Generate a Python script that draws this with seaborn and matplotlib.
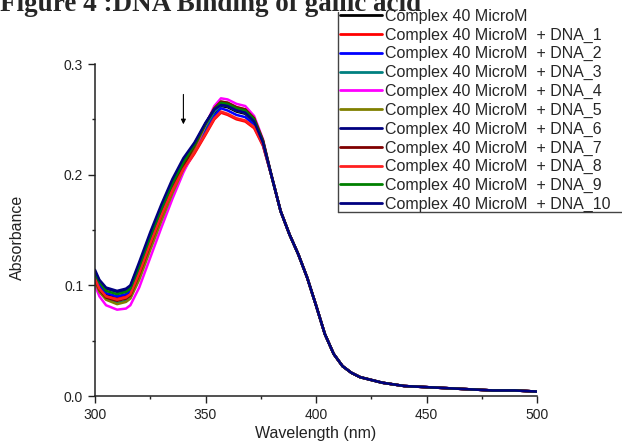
import pandas as pd
import matplotlib.pyplot as plt
import seaborn as sns
from matplotlib.lines import Line2D
from matplotlib.ticker import MultipleLocator

# wavelengths where the spectra differ (nm)
wl_head = [300, 302, 305, 310, 314, 316, 320, 325, 330, 335, 340, 345, 350, 354, 357, 360, 364, 368, 372, 376]
# wavelengths where all spectra overlap (nm)
wl_tail = [380, 384, 388, 392, 396, 400, 404, 408, 412, 416, 420, 430, 440, 450, 460, 470, 480, 490, 500]
abs_tail = [0.198, 0.167, 0.146, 0.128, 0.107, 0.082, 0.056, 0.038, 0.027, 0.021, 0.017, 0.012, 0.009, 0.008,
            0.007, 0.006, 0.005, 0.005, 0.004]

complex_only = [0.108, 0.099, 0.092, 0.089, 0.091, 0.094, 0.113, 0.140, 0.165, 0.188, 0.208, 0.224, 0.242, 0.256, 0.262, 0.261, 0.257, 0.255, 0.247, 0.228]
dna_1 = [0.106, 0.097, 0.090, 0.088, 0.090, 0.092, 0.110, 0.137, 0.162, 0.185, 0.204, 0.219, 0.236, 0.250, 0.256, 0.254, 0.250, 0.248, 0.242, 0.226]
dna_2 = [0.108, 0.100, 0.093, 0.090, 0.092, 0.095, 0.114, 0.141, 0.166, 0.189, 0.208, 0.222, 0.239, 0.253, 0.260, 0.258, 0.254, 0.252, 0.245, 0.227]
dna_3 = [0.104, 0.095, 0.088, 0.084, 0.086, 0.089, 0.107, 0.134, 0.160, 0.184, 0.205, 0.223, 0.243, 0.257, 0.263, 0.262, 0.258, 0.256, 0.248, 0.229]
dna_4 = [0.100, 0.090, 0.082, 0.078, 0.079, 0.082, 0.098, 0.125, 0.152, 0.178, 0.202, 0.222, 0.245, 0.262, 0.269, 0.268, 0.264, 0.262, 0.253, 0.232]
dna_5 = [0.103, 0.094, 0.087, 0.083, 0.085, 0.088, 0.105, 0.132, 0.158, 0.183, 0.205, 0.224, 0.245, 0.260, 0.266, 0.265, 0.261, 0.259, 0.251, 0.231]
dna_6 = [0.112, 0.104, 0.097, 0.094, 0.095, 0.099, 0.119, 0.146, 0.171, 0.194, 0.213, 0.228, 0.246, 0.259, 0.264, 0.263, 0.259, 0.257, 0.249, 0.230]
dna_7 = [0.105, 0.096, 0.089, 0.086, 0.088, 0.091, 0.110, 0.137, 0.163, 0.187, 0.208, 0.226, 0.246, 0.260, 0.266, 0.265, 0.261, 0.259, 0.251, 0.231]
dna_8 = [0.106, 0.097, 0.090, 0.087, 0.089, 0.092, 0.111, 0.138, 0.163, 0.186, 0.205, 0.220, 0.237, 0.251, 0.257, 0.255, 0.251, 0.249, 0.243, 0.227]
dna_9 = [0.111, 0.103, 0.095, 0.092, 0.094, 0.097, 0.117, 0.144, 0.169, 0.192, 0.211, 0.227, 0.246, 0.259, 0.265, 0.264, 0.260, 0.258, 0.250, 0.230]
dna_10 = [0.114, 0.105, 0.098, 0.095, 0.097, 0.100, 0.121, 0.148, 0.173, 0.196, 0.215, 0.229, 0.247, 0.259, 0.263, 0.262, 0.258, 0.256, 0.248, 0.229]

labels = ["Complex 40 MicroM"] + ["Complex 40 MicroM  + DNA_%d" % i for i in range(1, 11)]
colors = ["#000000", "#ff0000", "#0000ff", "#008080", "#ff00ff", "#808000",
          "#000080", "#800000", "#ff2020", "#008000", "#000080"]
series = [complex_only, dna_1, dna_2, dna_3, dna_4, dna_5, dna_6, dna_7, dna_8, dna_9, dna_10]

sns.set_style("white")
plt.rcParams['font.family'] = ['Liberation Sans', 'DejaVu Sans']

fig = plt.figure(figsize=(6.22, 4.43), dpi=100)
ax = fig.add_axes([95 / 622, 1 - 396 / 443, 442 / 622, 332 / 443])

handles = []
for lab, col, vals in zip(labels, colors, series):
    df = pd.DataFrame({"wl": wl_head + wl_tail, "A": vals + abs_tail})
    sns.lineplot(data=df, x="wl", y="A", color=col, lw=1.8, ax=ax, legend=False, sort=False)
    handles.append(Line2D([], [], color=col, lw=2))

ax.set_xlim(300, 500)
ax.set_ylim(0, 0.3)
ax.xaxis.set_major_locator(MultipleLocator(50))
ax.xaxis.set_minor_locator(MultipleLocator(25))
ax.yaxis.set_major_locator(MultipleLocator(0.1))
ax.yaxis.set_minor_locator(MultipleLocator(0.05))
ax.yaxis.set_major_formatter(plt.FormatStrFormatter('%.1f'))
ax.tick_params(which='major', direction='out', length=5, width=1, labelsize=10, colors='#222222', left=True, bottom=True)
ax.tick_params(which='minor', direction='out', length=2.5, width=1, colors='#222222', left=True, bottom=True)
sns.despine(ax=ax)
for s in ['left', 'bottom']:
    ax.spines[s].set_color('#222222')
    ax.spines[s].set_linewidth(1.1)

ax.set_xlabel("Wavelength (nm)", fontsize=11.5, color='#222222')
ax.set_ylabel("Absorbance", fontsize=11.5, color='#222222')
ax.xaxis.set_label_coords(0.499, -0.09)
ax.yaxis.set_label_coords(-0.158, 0.479)

ax.annotate('', xy=(340, 0.243), xytext=(340, 0.275),
            arrowprops=dict(arrowstyle='-|>', color='black', lw=0.8, mutation_scale=7))

fig.text(0.0, 1 - 11 / 443, "Figure 4 :DNA Binding of gallic acid", fontsize=19.5, fontweight='bold',
         family='Liberation Serif', ha='left', va='baseline', zorder=5)

leg = fig.legend(handles, labels, loc='lower left', bbox_to_anchor=(340 / 622, 1 - 212 / 443),
                 frameon=False, fontsize=11.5,
                 handlelength=2.6, handletextpad=0.2, labelspacing=0.23, borderpad=0.0, borderaxespad=0)

# legend box: only its left and bottom edges fall inside the picture
fx0, fy0 = 338 / 622, 1 - 212 / 443
fig.add_artist(Line2D([fx0, fx0], [fy0, 1 - 12 / 443], color='#444444', lw=1, transform=fig.transFigure))
fig.add_artist(Line2D([fx0, 1.0], [fy0, fy0], color='#444444', lw=1, transform=fig.transFigure))

fig.savefig("out.png", dpi=100, facecolor='white')
